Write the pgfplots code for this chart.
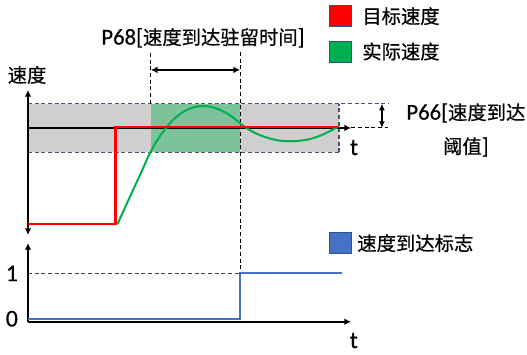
\documentclass[border=0pt]{standalone}
\usepackage{fontspec}
\setmainfont{Carlito}[FakeBold=0.4]
\newfontfamily\cjk{Noto Sans CJK SC}[FakeBold=0.5]
\usepackage{pgfplots}
\pgfplotsset{compat=1.18}
\usetikzlibrary{arrows.meta}

\definecolor{tgtred}{HTML}{FF0000}
\definecolor{actgreen}{HTML}{00B050}
\definecolor{flagblue}{HTML}{4472C4}
\definecolor{bandgray}{HTML}{D0CECE}
\definecolor{okgreen}{HTML}{7DC39A}
\definecolor{slate}{HTML}{44546A}
\definecolor{sqborder}{HTML}{2F528F}

\newcommand\zh{\fontsize{14.5}{17}\cjk}
\newcommand\lat{\fontsize{17}{20}\selectfont}

\begin{document}
\begin{tikzpicture}
\useasboundingbox (0,0) rectangle (395.25pt,265.5pt);

% speed vs time
\begin{axis}[
  at={(21pt,89.25pt)}, anchor=south west,
  width=233.25pt, height=108.75pt, scale only axis,
  xmin=0, xmax=10, ymin=-0.113, ymax=1.381,
  hide axis, clip=false,
  legend image code/.code={\draw[#1, draw=sqborder, line width=0.75pt] (0pt,-7.9pt) rectangle (16.5pt,7.9pt);},
  legend style={at={(0.968,1.586)}, anchor=north west, draw=none, fill=none,
    inner sep=0pt, row sep=10pt, font=\zh, nodes={inner sep=0pt},
    /tikz/every odd column/.append style={column sep=7.5pt}},
  legend cell align=left,
]
\addlegendimage{fill=tgtred}
\addlegendentry{目标速度}
\addlegendimage{fill=actgreen}
\addlegendentry{实际速度}

% threshold band and dwell window
\addplot[fill=bandgray, draw=none, forget plot] coordinates
  {(0,0.74) (10,0.74) (10,1.24) (0,1.24)} -- cycle;
\addplot[fill=okgreen, draw=none, forget plot] coordinates
  {(3.95,0.74) (6.82,0.74) (6.82,1.24) (3.95,1.24)} -- cycle;
\addplot[slate, line width=0.8pt, dash pattern=on 3pt off 2pt, forget plot] coordinates {(0,1.24) (11.58,1.24)};
\addplot[slate, line width=0.8pt, dash pattern=on 3pt off 2pt, forget plot] coordinates {(0,0.74) (10,0.74)};
\addplot[slate, line width=0.8pt, dash pattern=on 3pt off 2pt, forget plot] coordinates {(10,0.74) (10,1.24)};
\addplot[black, line width=0.8pt, dash pattern=on 3pt off 2pt, forget plot] coordinates {(10.4,0.99) (11.58,0.99)};
\addplot[black, line width=0.9pt, {Latex[length=5pt,width=4.5pt]}-{Latex[length=5pt,width=4.5pt]}, forget plot] coordinates {(11.38,1.24) (11.38,0.99)};

% dwell time markers
\addplot[black, line width=0.8pt, dash pattern=on 3pt off 2pt, forget plot] coordinates {(3.95,1.24) (3.95,1.773)};
\addplot[black, line width=0.8pt, dash pattern=on 3pt off 2pt, forget plot] coordinates {(6.82,1.773) (6.82,-0.505)};
\addplot[black, line width=1.5pt, {Latex[length=5pt,width=5pt]}-{Latex[length=5pt,width=5pt]}, forget plot] coordinates {(3.95,1.588) (6.82,1.588)};

% axes
\addplot[black, line width=1.5pt, -{Latex[length=5pt,width=5pt]}, forget plot] coordinates {(0,0.99) (10.39,0.99)};
\addplot[black, line width=1.5pt, {Latex[length=5pt,width=5pt]}-{Latex[length=5pt,width=5pt]}, forget plot] coordinates {(0,-0.113) (0,1.381)};

% actual speed
\addplot[actgreen, line width=1.5pt, smooth, tension=0.5, forget plot] coordinates {
  (2.878,0) (3.215,0.237) (3.601,0.505) (3.923,0.732) (4.180,0.876)
  (4.437,0.990) (4.727,1.093) (5.048,1.165) (5.370,1.206) (5.659,1.216)
  (6.013,1.196) (6.431,1.134) (6.817,1.041) (6.977,1.0) (7.299,0.938)
  (7.717,0.887) (8.167,0.856) (8.650,0.856) (9.068,0.876) (9.453,0.918)
  (9.775,0.969) (9.968,1.0)};
% target speed
\addplot[tgtred, line width=2pt, forget plot] coordinates {(0,0) (2.82,0) (2.82,1) (10,1)};

\node[font=\lat] at (axis cs:5.627,1.918) {P68[{\zh 速度到达驻留时间}]};
\node[font=\zh] at (axis cs:-0.032,1.536) {速度};
\node[font=\fontsize{18}{20}\selectfont, anchor=base] at (axis cs:10.48,0.711) {t};
\node[font=\fontsize{17}{25.5}\selectfont, align=center] at (axis cs:14.08,0.969) {P66[{\zh 速度到达}\\{\zh 阈值}]};
\end{axis}

% speed reached flag
\begin{axis}[
  at={(21pt,24.2pt)}, anchor=south west,
  width=242.25pt, height=59pt, scale only axis,
  xmin=0, xmax=10.39, ymin=-0.066, ymax=1.667,
  axis lines=left,
  axis line style={line width=1.5pt, -{Latex[length=5pt,width=5pt]}},
  xtick=\empty, ytick={0,1}, yticklabels={0,1}, major tick length=0pt,
  yticklabel style={font=\fontsize{18}{20}\selectfont, xshift=-4pt},
  /pgf/number format/assume math mode=true,
  clip=false,
  legend image code/.code={\draw[#1, draw=sqborder, line width=0.75pt] (0pt,-7.9pt) rectangle (16.5pt,7.9pt);},
  legend style={at={(0.932,1.140)}, anchor=north west, draw=none, fill=none,
    inner sep=0pt, font=\zh, nodes={inner sep=0pt},
    /tikz/every odd column/.append style={column sep=3.75pt}},
  legend cell align=left,
]
\addlegendimage{fill=flagblue}
\addlegendentry{速度到达标志}
\addplot[darkgray, line width=0.8pt, dash pattern=on 3pt off 2pt, forget plot] coordinates {(0,1) (6.82,1)};
\addplot[flagblue, line width=1.5pt, forget plot] coordinates {(0,0) (6.82,0) (6.82,1) (10.1,1)};
\node[font=\fontsize{18}{20}\selectfont, anchor=base] at (axis cs:10.48,-0.645) {t};
\end{axis}
\end{tikzpicture}
\end{document}
